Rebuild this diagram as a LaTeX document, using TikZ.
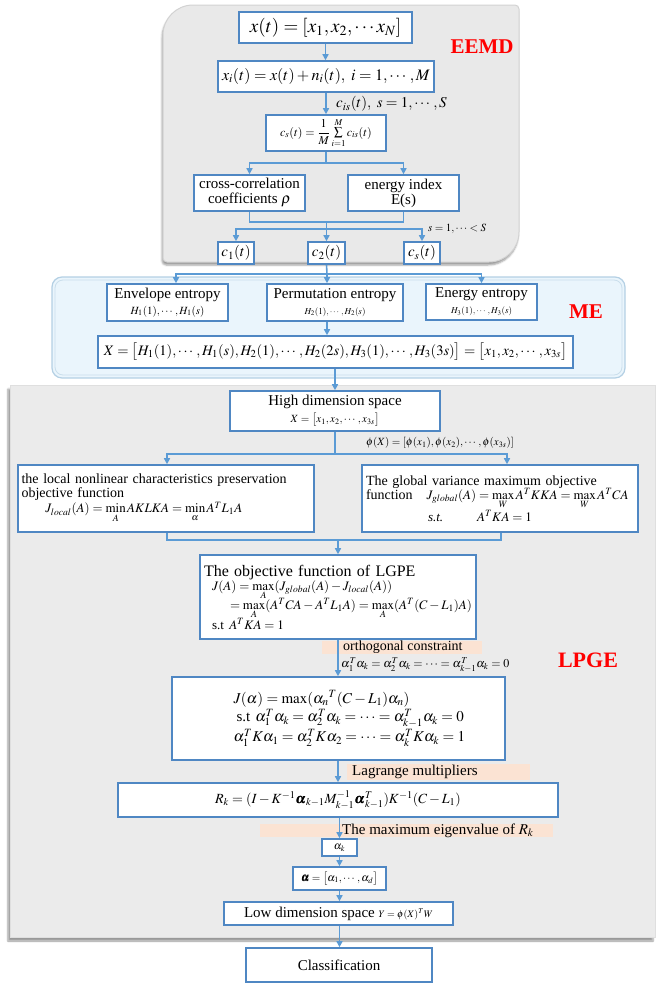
\documentclass[tikz,border=0pt]{standalone}
\usepackage{amsmath}
\usepackage{mathptmx}
\usepackage{bm}
\usepackage{fontspec}
\setmainfont{Liberation Serif}
\renewcommand{\familydefault}{\rmdefault}
\usetikzlibrary{arrows.meta,shadows.blur}

\definecolor{boxblue}{HTML}{4F87C3}
\definecolor{arrblue}{HTML}{5B9BD5}
\definecolor{eemdgray}{HTML}{E9E9E9}
\definecolor{lpgegray}{HTML}{EBEBEB}
\definecolor{mefill}{HTML}{EAF5FC}
\definecolor{meline}{HTML}{B4D0E4}
\definecolor{bandfill}{HTML}{FBE3D3}

\newcommand{\fs}[1]{\fontsize{#1}{#1}\selectfont}

\begin{document}
\begin{tikzpicture}[x=1pt, y=-1pt,
    blk/.style={draw=boxblue, line width=1.6pt, fill=white, inner sep=2pt, align=center, font=\rmfamily\fs{15}},
    arr/.style={-{Triangle[length=6pt,width=6pt]}, draw=arrblue, line width=1.6pt},
    lin/.style={draw=arrblue, line width=1.6pt},
    lbl/.style={inner sep=0pt, anchor=west, font=\fs{12}},
    ttl/.style={text=red, font=\fs{21}\bfseries}
]
\useasboundingbox (0,0) rectangle (661,983);

% panels
\filldraw[fill=eemdgray, draw=gray!35, line width=1pt, blur shadow={shadow xshift=-1pt, shadow yshift=-3pt, shadow blur steps=4}]
    (163,150) [rounded corners=30pt] -- (163,5) [rounded corners=4pt] -- (519,5) [rounded corners=30pt] -- (519,262) [rounded corners=4pt] -- (163,262) -- cycle;
\filldraw[fill=mefill, draw=meline, line width=1.2pt, rounded corners=10pt] (52,277) rectangle (625,378);
\draw[meline!70, line width=0.8pt, rounded corners=8pt] (55,280) rectangle (622,375);
\filldraw[fill=lpgegray, draw=gray!25, line width=0.6pt, blur shadow={shadow xshift=-2pt, shadow yshift=-4pt, shadow blur steps=5}] (10,385) rectangle (655,937);

\node[ttl] (teemd) at (482,47) {EEMD};
\node[ttl] (tme) at (586,312) {ME};
\node[ttl, font=\fs{22}\bfseries] (tlpge) at (588,660) {LPGE};

% bands
\fill[bandfill] (322,641) rectangle (482,654);
\fill[bandfill] (347,764) rectangle (530,780);
\fill[bandfill] (260,824) rectangle (553,837);

% EEMD
\node[blk, minimum width=173pt, minimum height=31pt, font=\fs{19}] (xt) at (325.5,27.5) {$x(t)=[x_1,x_2,\cdots x_N]$};
\node[blk, minimum width=216pt, minimum height=31pt, font=\fs{16}] (xi) at (326,76.5) {$x_i(t)=x(t)+n_i(t),\ i=1,\cdots,M$};
\node[blk, minimum width=120pt, minimum height=36pt, inner sep=0pt, font=\fs{12}] (cs) at (326,133) {$c_s(t)=\dfrac{1}{M}\sum\limits_{i=1}^{M}c_{is}(t)$};
\node[blk, minimum width=111pt, minimum height=36pt] (cc) at (249.5,193) {cross-correlation\\coefficients $\rho$};
\node[blk, minimum width=111pt, minimum height=36pt] (ei) at (403.5,193) {energy index\\E(s)};
\node[blk, minimum width=36pt, minimum height=22pt] (c1) at (236,253) {$c_1(t)$};
\node[blk, minimum width=37pt, minimum height=22pt] (c2) at (326.5,253) {$c_2(t)$};
\node[blk, minimum width=36pt, minimum height=22pt] (c3) at (422,253) {$c_s(t)$};

\node[lbl, font=\fs{15}] (cis) at (336,104) {$c_{is}(t),\ s=1,\cdots,S$};
\node[lbl, font=\fs{11}] (sl) at (428,229) {$s=1,\cdots<S$};

\draw[arr] (xt.south) -- (xt.south |- xi.north);
\draw[arr] (xi.south) -- (xi.south |- cs.north);
\draw[lin] (cs.south) -- ++(0,11) coordinate (j1);
\draw[arr] (j1) -| (cc.north);
\draw[arr] (j1) -| (ei.north);
\coordinate (j2) at (326.5,222);
\draw[lin] (cc.south) |- (j2) -| (ei.south);
\draw[lin] (j2) -- ++(0,7) coordinate (j3);
\draw[arr] (j3) -| (c1.north);
\draw[arr] (j3) -- (c2.north);
\draw[arr] (j3) -| (c3.north);

% ME
\node[blk, minimum width=121pt, minimum height=37pt] (env) at (167.5,302.5) {Envelope entropy\\[1pt]{\fs{11}$H_1(1),\cdots,H_1(s)$}};
\node[blk, minimum width=136pt, minimum height=37pt] (perm) at (335,302.5) {Permutation entropy\\[1pt]{\fs{9}$H_2(1),\cdots,H_2(s)$}};
\node[blk, minimum width=111pt, minimum height=36pt] (ene) at (481.5,302) {Energy entropy\\[1pt]{\fs{9}$H_3(1),\cdots,H_3(s)$}};
\node[blk, minimum width=475pt, minimum height=32pt, font=\fs{14.5}] (X) at (335.5,352)
    {$X=\bigl[H_1(1),\cdots,H_1(s),H_2(1),\cdots,H_2(2s),H_3(1),\cdots,H_3(3s)\bigr]=\bigl[x_1,x_2,\cdots,x_{3s}\bigr]$};

\coordinate (j4) at (327,274);
\draw[lin] (c2.south) -- (j4);
\draw[arr] (j4) -| ([xshift=8.5pt]env.north);
\draw[arr] (j4) -- (j4 |- perm.north);
\draw[arr] (j4) -| (ene.north);
\draw[arr] (perm.south -| j4) -- (X.north -| j4);

% LPGE
\node[blk, minimum width=210pt, minimum height=40pt] (hd) at (335,411) {High dimension space\\[2pt]{\fs{11}$X=\bigl[x_1,x_2,\cdots,x_{3s}\bigr]$}};
\node[blk, minimum width=296pt, minimum height=67pt, align=left, text width=289pt, font=\fs{14}] (loc) at (166,498.5)
    {\makebox[289pt][s]{the local nonlinear characteristics preservation}\\
     objective function\\[1pt]
     \hspace*{24pt}{\fs{13}$J_{local}(A)=\min\limits_A AKLKA=\min\limits_\alpha A^TL_1A$}};
\node[blk, minimum width=276pt, minimum height=67pt, align=left, text width=268pt, font=\fs{14}] (glb) at (500,498.5)
    {\makebox[268pt][s]{The global variance maximum objective}\\
     function\quad{\fs{13}$J_{global}(A)=\max\limits_W A^TKKA=\max\limits_W A^TCA$}\\
     \hspace*{62pt}{\fs{13}\textit{s.t.}\hspace{34pt}$A^TKA=1$}};
\node[lbl, font=\fs{11}] (phi) at (366,443) {$\phi(X)=[\phi(x_1),\phi(x_2),\cdots,\phi(x_{3s})]$};

\draw[arr] (X.south -| hd) -- (hd.north);
\draw[lin] (hd.south) -- ++(0,22) coordinate (j5);
\draw[arr] (j5) -| ([xshift=1pt]loc.north);
\draw[arr] (j5) -| ([xshift=7pt]glb.north);
\coordinate (j6) at (338,540);
\draw[lin] ([xshift=1pt]loc.south) |- (j6) -| ([xshift=1pt]glb.south);

\node[blk, minimum width=276pt, minimum height=84pt, align=left, text width=268pt, font=\fs{16}] (obj) at (338,597)
    {The objective function of LGPE\\[-2pt]
     {\fs{13}\hspace*{8pt}$J(A)=\max\limits_A(J_{global}(A)-J_{local}(A))$}\\[-3pt]
     {\fs{13}\hspace*{26pt}$=\max\limits_A(A^TCA-A^TL_1A)=\max\limits_A(A^T(C-L_1)A)$}\\[-2pt]
     {\fs{13}\hspace*{8pt}s.t $A^TKA=1$}};
\draw[arr] (j6) -- (obj.north);

\node[lbl, font=\fs{14}] (oc) at (343,647.5) {orthogonal constraint};
\node[lbl, font=\fs{12}] (oq) at (341,665) {$\alpha_1^T\alpha_k=\alpha_2^T\alpha_k=\cdots=\alpha_{k-1}^T\alpha_k=0$};

\node[blk, minimum width=333pt, minimum height=83pt, align=left, text width=290pt, font=\fs{15}] (ja) at (338.5,718.5)
    {\hspace*{40pt}$J(\alpha)=\max(\alpha_n{}^T(C-L_1)\alpha_n)$\\[1pt]
     \hspace*{43pt}s.t $\alpha_1^T\alpha_k=\alpha_2^T\alpha_k=\cdots=\alpha_{k-1}^T\alpha_k=0$\\[1pt]
     \hspace*{40pt}$\alpha_1^TK\alpha_1=\alpha_2^TK\alpha_2=\cdots=\alpha_k^TK\alpha_k=1$};
\draw[arr] (obj.south) -- (obj.south |- ja.north);

\node[lbl, font=\fs{15}] (lm) at (352,772) {Lagrange multipliers};
\node[blk, minimum width=440pt, minimum height=34pt, font=\fs{14}] (rk) at (338,800)
    {$R_k=(I-K^{-1}\bm{\alpha}_{k-1}M_{k-1}^{-1}\bm{\alpha}_{k-1}^T)K^{-1}(C-L_1)$};
\draw[arr] (ja.south -| obj.south) -- (rk.north -| obj.south);

\node[lbl, font=\fs{15}] (me) at (342,830.5) {The maximum eigenvalue of $R_k$};
\node[blk, minimum width=35pt, minimum height=17pt, inner sep=1pt, font=\fs{11}] (ak) at (339.5,847.5) {$\alpha_k$};
\node[blk, minimum width=93pt, minimum height=23pt, font=\fs{11}] (al) at (339.5,878.5) {$\bm{\alpha}=\bigl[\alpha_1,\cdots,\alpha_d\bigr]$};
\node[blk, minimum width=229pt, minimum height=23pt, font=\fs{15}] (low) at (338.5,913.5) {Low dimension space {\fs{10}$Y=\phi(X)^TW$}};
\node[blk, minimum width=186pt, minimum height=34pt, font=\fs{15}] (cls) at (339,965) {Classification};

\draw[arr] (rk.south -| ak) -- (ak.north);
\draw[arr] (ak.south) -- (ak.south |- al.north);
\draw[arr] (al.south -| ak) -- (low.north -| ak);
\draw[arr] (low.south -| ak) -- (cls.north -| ak);
\end{tikzpicture}
\end{document}
